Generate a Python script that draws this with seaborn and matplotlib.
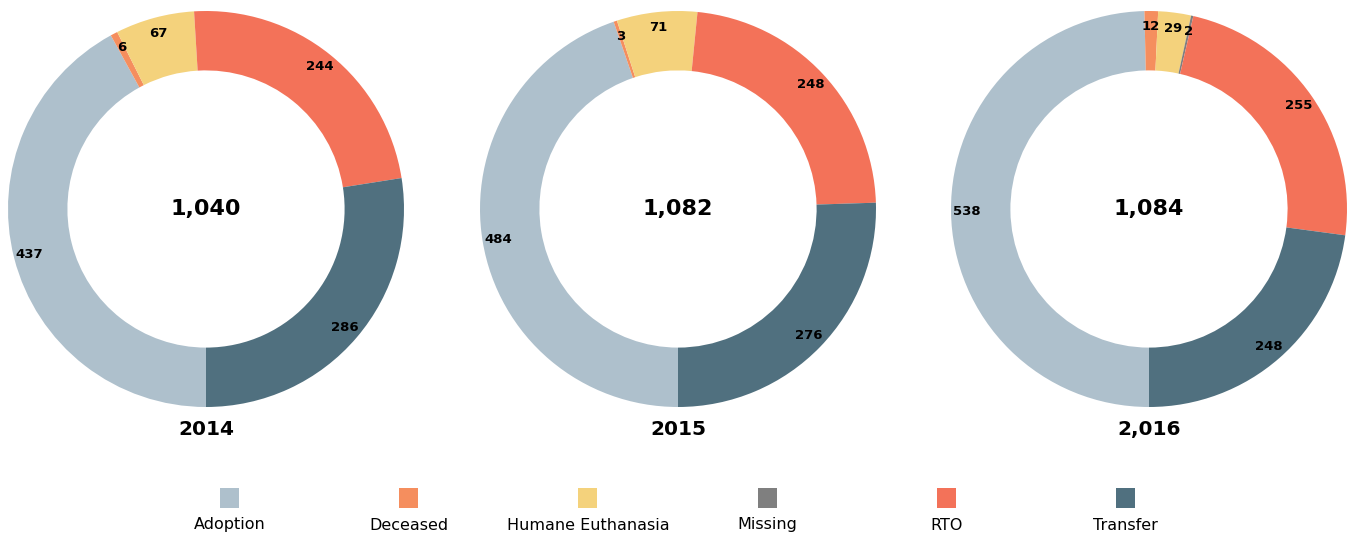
import matplotlib
matplotlib.use("Agg")
import matplotlib.pyplot as plt
import seaborn as sns

# outcome categories and colours
categories = ["Adoption", "Deceased", "Humane Euthanasia", "Missing", "RTO", "Transfer"]
colors = ["#AEC0CC", "#F58E5E", "#F4D27C", "#7F7F7F", "#F37259", "#50707F"]

# values per year (same order as categories)
year_labels = ["2014", "2015", "2,016"]
values_2014 = [437, 6, 67, 0, 244, 286]
values_2015 = [484, 3, 71, 0, 248, 276]
values_2016 = [538, 12, 29, 2, 255, 248]

sns.set_theme(style="white")
plt.rcParams["font.family"] = ["DejaVu Sans"]
plt.rcParams["text.color"] = "black"
palette = sns.color_palette(colors)

W, H = 1348, 538
fig = plt.figure(figsize=(W / 100, H / 100), dpi=100)

R = 198
cy = 209
centers_x = [206, 678, 1149]
all_values = [values_2014, values_2015, values_2016]

for cx, vals, year in zip(centers_x, all_values, year_labels):
    ax = fig.add_axes([(cx - R) / W, 1 - (cy + R) / H, 2 * R / W, 2 * R / H])
    total = sum(vals)

    def fmt(p, total=total):
        v = round(p * total / 100)
        return "" if v == 0 else f"{v:,}"

    wedges, texts, autotexts = ax.pie(
        vals, colors=palette, startangle=-90, counterclock=False, radius=1,
        wedgeprops=dict(width=0.30, linewidth=0),
        autopct=fmt, pctdistance=0.92,
        textprops=dict(fontsize=9.5, fontweight="bold", color="black"),
    )
    ax.set_xlim(-1, 1)
    ax.set_ylim(-1, 1)
    ax.set_aspect("equal")
    ax.axis("off")
    ax.text(0, 0, f"{total:,}", ha="center", va="center", fontsize=16,
            fontweight="bold", color="black")
    ax.text(0, -1.115, year, ha="center", va="center", fontsize=14.5,
            fontweight="bold", color="black", clip_on=False)

# legend: swatch above label
lax = fig.add_axes([140 / W, 0, 1075 / W, 80 / H])
lax.set_xlim(-0.5, len(categories) - 0.5)
lax.set_ylim(0, 80)
lax.axis("off")
xs = list(range(len(categories)))
sns.scatterplot(x=xs, y=[40] * len(xs), hue=categories, palette=colors, marker="s",
                s=190, linewidth=0, legend=False, ax=lax)
for x, name in zip(xs, categories):
    lax.text(x, 13, name, ha="center", va="center", fontsize=11.5, color="black")

fig.savefig("out.png", dpi=100)
